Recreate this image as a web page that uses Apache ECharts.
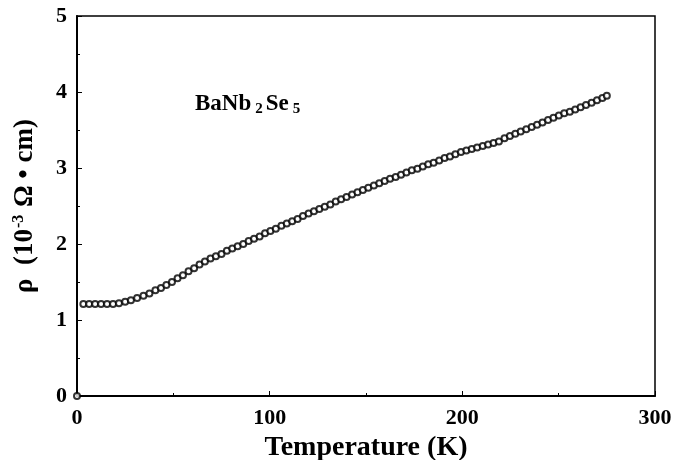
<!DOCTYPE html>
<html>
<head>
<meta charset="utf-8">
<script src="https://cdn.jsdelivr.net/npm/echarts@6/dist/echarts.min.js"></script>
<style>
  html, body { margin: 0; padding: 0; background: #fff; }
  #chart { width: 673px; height: 460px; }
</style>
</head>
<body>
<div id="chart"></div>
<script>
// Temperature (K) of each measured point
const temperature = [
  0,
  3.3, 6.3, 9.4, 12.5, 15.6, 18.7, 21.8, 25.0, 28.0, 31.2,
  34.5, 37.6, 40.7, 43.6, 46.4, 49.3, 52.2, 55.0, 57.9, 60.8,
  63.6, 66.4, 69.3, 72.1, 75.0, 77.8, 80.6, 83.4, 86.3, 89.1,
  91.9, 94.8, 97.6, 100.4, 103.2, 106.1, 108.9, 111.7, 114.5, 117.3,
  120.2, 123.0, 125.8, 128.6, 131.5, 134.3, 137.1, 139.9, 142.8, 145.6,
  148.4, 151.2, 154.1, 156.9, 159.7, 162.5, 165.4, 168.2, 171.0, 173.8,
  176.7, 179.5, 182.3, 185.1, 188.0, 190.8, 193.6, 196.4, 199.3, 202.1,
  204.9, 207.7, 210.6, 213.4, 216.2, 219.0, 221.9, 224.7, 227.5, 230.3,
  233.2, 236.0, 238.8, 241.6, 244.5, 247.3, 250.1, 252.9, 255.8, 258.6,
  261.4, 264.2, 267.1, 269.9, 272.7, 275.0
];

// Resistivity (10^-3 Ohm cm) at each temperature
const resistivity = [
  0,
  1.21, 1.21, 1.21, 1.21, 1.21, 1.21, 1.22, 1.24, 1.26, 1.29,
  1.32, 1.35, 1.39, 1.42, 1.46, 1.50, 1.55, 1.59, 1.64, 1.68,
  1.73, 1.77, 1.81, 1.84, 1.87, 1.91, 1.94, 1.97, 2.00, 2.04,
  2.07, 2.10, 2.14, 2.17, 2.20, 2.24, 2.27, 2.30, 2.33, 2.37,
  2.40, 2.43, 2.46, 2.49, 2.52, 2.56, 2.59, 2.62, 2.65, 2.68,
  2.71, 2.74, 2.77, 2.80, 2.83, 2.86, 2.88, 2.91, 2.94, 2.97,
  2.99, 3.02, 3.05, 3.07, 3.10, 3.13, 3.15, 3.18, 3.21, 3.23,
  3.25, 3.27, 3.29, 3.31, 3.33, 3.35, 3.39, 3.42, 3.45, 3.48,
  3.51, 3.54, 3.57, 3.60, 3.63, 3.66, 3.69, 3.72, 3.74, 3.77,
  3.80, 3.83, 3.86, 3.89, 3.92, 3.95
];

const xTicks = [0, 100, 200, 300];
const yTicks = [0, 1, 2, 3, 4, 5];

const serif = '"Liberation Serif", "DejaVu Serif", serif';
const points = temperature.map((t, i) => [t, resistivity[i]]);

const chart = echarts.init(document.getElementById('chart'), null, { renderer: 'canvas' });

chart.setOption({
  animation: false,
  backgroundColor: '#ffffff',
  grid: {
    left: 77, right: 18, top: 16, bottom: 64,
    containLabel: false,
    outerBoundsMode: 'none',
    show: true,
    borderColor: '#000',
    borderWidth: 1.5,
    backgroundColor: 'transparent'
  },
  xAxis: {
    type: 'value',
    min: xTicks[0],
    max: xTicks[xTicks.length - 1],
    interval: 100,
    name: 'Temperature (K)',
    nameLocation: 'middle',
    nameGap: 31,
    nameTextStyle: { fontFamily: serif, fontWeight: 'bold', fontSize: 28, color: '#000' },
    axisLine: { show: true, onZero: false, lineStyle: { color: '#000', width: 2 } },
    axisTick: { show: true, inside: true, length: 5, lineStyle: { color: '#000', width: 1 } },
    minorTick: { show: true, splitNumber: 2, length: 3, lineStyle: { color: '#000', width: 1 } },
    axisLabel: { fontFamily: serif, fontWeight: 'bold', fontSize: 22, color: '#000', margin: 11 },
    splitLine: { show: false }
  },
  yAxis: {
    type: 'value',
    min: yTicks[0],
    max: yTicks[yTicks.length - 1],
    interval: 1,
    name: 'ρ  (10{sup|-3} Ω • cm)',
    nameLocation: 'middle',
    nameGap: 37,
    nameTextStyle: {
      fontFamily: serif, fontWeight: 'bold', fontSize: 27, color: '#000',
      rich: {
        sup: { fontFamily: serif, fontWeight: 'bold', fontSize: 16, color: '#000', verticalAlign: 'top', padding: [0, 1, 13, 1] }
      }
    },
    axisLine: { show: true, onZero: false, lineStyle: { color: '#000', width: 2 } },
    axisTick: { show: true, inside: true, length: 5, lineStyle: { color: '#000', width: 1 } },
    minorTick: { show: true, splitNumber: 2, length: 3, lineStyle: { color: '#000', width: 1 } },
    axisLabel: { fontFamily: serif, fontWeight: 'bold', fontSize: 22, color: '#000', margin: 10 },
    splitLine: { show: false }
  },
  graphic: [{
    type: 'text',
    left: 195,
    top: 93,
    style: {
      text: 'BaNb{sub|2}Se{sub|5}',
      font: 'bold 23px ' + serif,
      fill: '#000',
      rich: {
        sub: { font: 'bold 15px ' + serif, fill: '#000', padding: [9, 3, 0, 4] }
      }
    }
  }],
  series: [{
    type: 'scatter',
    data: points,
    symbol: 'emptyCircle',
    symbolSize: 6,
    itemStyle: { color: '#000', borderColor: '#000', borderWidth: 1 },
    clip: false
  }]
});
</script>
</body>
</html>
